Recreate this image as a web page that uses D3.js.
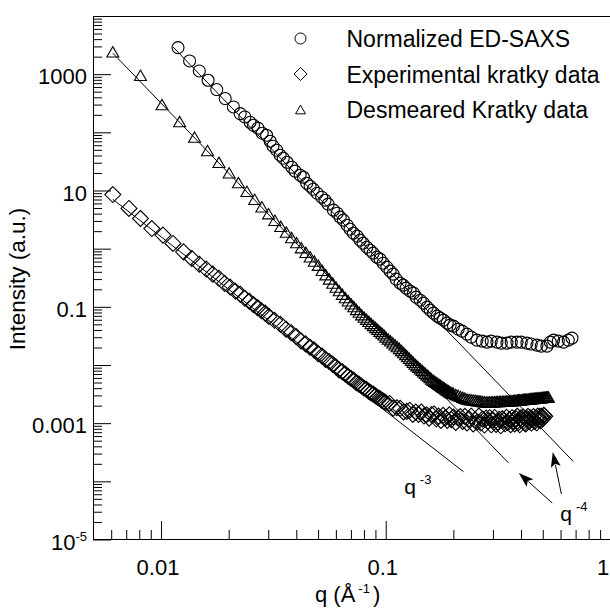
<!DOCTYPE html>
<html><head><meta charset="utf-8">
<script src="https://cdn.jsdelivr.net/npm/d3@7"></script>
<style>
html,body{margin:0;padding:0;background:#fff;}
svg{display:block;}
text{font-family:"Liberation Sans",Arial,Helvetica,sans-serif;fill:#000;}
</style></head><body>
<svg id="chart" width="610" height="608"></svg>
<script>
// ---------------- data ----------------
const edSaxsQ = [0.0119,0.0134,0.0148,0.0162,0.0177,0.0193,0.0210,0.0225,0.0236,0.0249,0.0258,0.0270,0.0282,0.0295,0.0306,0.0315,0.0327,0.0339,0.0350,0.0364,0.0382,0.0395,0.0416,0.0430,0.0445,0.0461,0.0476,0.0495,0.0519,0.0537,0.0554,0.0585,0.0608,0.0627,0.0648,0.0673,0.0694,0.0718,0.0746,0.0769,0.0793,0.0824,0.0852,0.0879,0.0913,0.0944,0.0974,0.1012,0.1046,0.1079,0.1113,0.1159,0.1196,0.1233,0.1285,0.1329,0.1366,0.1424,0.1473,0.1529,0.1577,0.1632,0.1695,0.1748,0.1808,0.1878,0.1936,0.2003,0.2102,0.2190,0.2298,0.2402,0.2546,0.2688,0.2821,0.2948,0.3126,0.3267,0.3464,0.3620,0.3838,0.4011,0.4252,0.4444,0.4711,0.4924,0.5220,0.5400,0.5586,0.5862,0.6189,0.6494,0.6746];
const edSaxsI = [2864,1686,1135,786,544,381,273,210,184,149,132,118,96.5,89.1,70.3,57.7,49.3,40.4,35.9,30.6,25.1,21.5,18.3,16.9,13.35,11.85,10.53,8.98,7.67,6.81,5.82,4.59,4.07,3.48,3.09,2.53,2.16,1.85,1.64,1.40,1.24,1.06,0.942,0.837,0.715,0.660,0.563,0.481,0.411,0.365,0.299,0.255,0.236,0.210,0.186,0.172,0.147,0.130,0.116,0.0988,0.0878,0.0779,0.0692,0.0639,0.0591,0.0525,0.0485,0.0466,0.0414,0.0382,0.0340,0.0302,0.0268,0.0257,0.0247,0.0257,0.0247,0.0238,0.0238,0.0247,0.0247,0.0247,0.0238,0.0229,0.0220,0.0211,0.0211,0.0247,0.0268,0.0257,0.0247,0.0268,0.0290];

const kratkyExpQ = [0.0061,0.0072,0.0081,0.0091,0.0102,0.0113,0.0126,0.0137,0.0148,0.0159,0.0170,0.0181,0.0192,0.0203,0.0214,0.0225,0.0236,0.0247,0.0258,0.0269,0.0280,0.0291,0.0302,
0.032,0.034,0.036,0.038,0.040,0.042,0.044,0.046,0.048,0.050,0.052,0.054,0.056,0.058,0.060,0.062,0.064,0.066,0.068,0.070,0.072,0.074,0.076,0.078,0.080,0.082,0.084,0.086,0.088,0.090,0.092,0.094,0.096,0.098,0.100,
0.104,0.108,0.112,0.116,0.120,0.124,0.128,0.132,0.136,0.140,0.144,0.148,0.152,0.156,0.160,0.164,0.168,0.172,0.176,0.180,0.184,0.188,0.192,0.196,0.200,
0.205,0.210,0.215,0.220,0.225,0.230,0.235,0.240,0.245,0.250,0.255,0.260,0.265,0.270,0.275,0.280,0.285,0.290,0.295,0.300,0.305,0.310,0.315,0.320,0.325,0.330,0.335,0.340,0.345,0.350,0.355,0.360,0.365,0.370,0.375,0.380,0.385,0.390,0.395,0.400,0.405,0.410,0.415,0.420,0.425,0.430,0.435,0.440,0.445,0.450,0.455,0.460,0.465,0.470,0.475,0.480,0.485,0.490,0.495,0.500,0.505,0.510];
const kratkyExpI = [8.53,4.91,3.30,2.22,1.71,1.23,0.881,0.679,0.540,0.446,0.365,0.309,0.253,0.219,0.187,0.165,0.140,0.125,0.109,0.0965,0.0855,0.0779,0.0682,
0.0586,0.0500,0.0412,0.0358,0.0307,0.0259,0.0231,0.0202,0.0182,0.0157,0.0143,0.0125,0.01146,0.01031,0.00931,0.00825,0.00767,0.00700,0.00640,0.00587,0.00551,0.00496,0.00469,0.00434,0.00402,0.00382,0.00355,0.00331,0.00316,0.00296,0.00277,0.00266,0.00249,0.00240,0.00226,
2.185e-3,1.806e-3,1.841e-3,1.798e-3,1.561e-3,1.594e-3,1.666e-3,1.417e-3,1.553e-3,1.417e-3,1.556e-3,1.327e-3,1.392e-3,1.216e-3,1.401e-3,1.442e-3,1.189e-3,1.322e-3,1.115e-3,1.360e-3,1.230e-3,1.113e-3,1.390e-3,1.147e-3,1.277e-3,
1.028e-3,1.225e-3,1.301e-3,1.073e-3,1.308e-3,1.007e-3,1.179e-3,1.317e-3,0.972e-3,1.138e-3,1.034e-3,1.327e-3,1.003e-3,1.174e-3,0.929e-3,1.220e-3,1.084e-3,1.240e-3,0.938e-3,1.123e-3,1.256e-3,0.950e-3,1.038e-3,1.162e-3,0.900e-3,1.191e-3,1.115e-3,0.974e-3,1.258e-3,1.025e-3,1.154e-3,0.940e-3,1.243e-3,1.085e-3,0.970e-3,1.196e-3,1.315e-3,1.023e-3,0.936e-3,1.237e-3,1.131e-3,1.272e-3,1.012e-3,0.969e-3,1.195e-3,1.314e-3,1.070e-3,1.231e-3,1.003e-3,1.154e-3,1.298e-3,1.066e-3,1.208e-3,1.015e-3,1.321e-3,1.136e-3,1.317e-3,1.106e-3,1.312e-3,1.208e-3,1.368e-3,1.319e-3];

const kratkyDesQ = [0.0061,0.0081,0.0101,0.0121,0.0141,0.0161,0.0181,0.0201,0.0221,0.0241,0.0261,0.0281,0.0301,0.0321,0.0341,0.0361,0.0381,0.0401,0.0421,0.0441,0.0461,0.0481,0.0501,0.0521,0.0541,0.0561,0.0581,0.0601,0.0621,0.0641,0.0661,0.0681,0.0701,0.0721,0.0741,0.0761,0.0781,0.0801,0.0821,0.0841,0.0861,0.0881,0.0901,0.0921,0.0941,0.0961,0.0981,0.1001,
0.1025,0.105,0.1075,0.11,0.1125,0.115,0.1175,0.12,0.1225,0.125,0.1275,0.13,0.1325,0.135,0.1375,0.14,0.1425,0.145,0.1475,0.15,0.1525,0.155,0.1575,0.16,0.1625,0.165,0.1675,0.17,0.1725,0.175,0.1775,0.18,0.1825,0.185,0.1875,0.19,0.1925,0.195,0.1975,0.2,
0.205,0.21,0.215,0.22,0.225,0.23,0.235,0.24,0.245,0.25,0.255,0.26,0.265,0.27,0.275,0.28,0.285,0.29,0.295,0.3,0.305,0.31,0.315,0.32,0.325,0.33,0.335,0.34,0.345,0.35,0.355,0.36,0.365,0.37,0.375,0.38,0.385,0.39,0.395,0.4,0.405,0.41,0.415,0.42,0.425,0.43,0.435,0.44,0.445,0.45,0.455,0.46,0.465,0.47,0.475,0.48,0.485,0.49,0.495,0.5,0.505,0.51,0.515,0.52,0.525,0.53];
const kratkyDesI = [2420,957,300,153,82.8,48.7,30.5,20.1,13.7,9.70,7.06,5.25,3.99,3.08,2.42,1.93,1.55,1.27,1.04,0.866,0.725,0.612,0.520,0.424,0.357,0.302,0.256,0.219,0.190,0.165,0.144,0.127,0.113,0.101,0.0903,0.0812,0.0732,0.0669,0.0613,0.0563,0.0519,0.0479,0.0443,0.0410,0.0381,0.0354,0.0330,0.0304,
0.0281,0.0260,0.0241,0.0223,0.0207,0.0193,0.0178,0.0164,0.0152,0.0140,0.0130,0.0121,0.0112,0.0104,0.00974,0.00916,0.00861,0.00811,0.00764,0.00721,0.00681,0.00644,0.00609,0.00577,0.00547,0.00524,0.00503,0.00484,0.00465,0.00448,0.00431,0.00416,0.00401,0.00386,0.00373,0.00360,0.00348,0.00338,0.00332,0.00325,
0.00312,0.00300,0.00289,0.00278,0.00269,0.00259,0.00256,0.00253,0.00250,0.00247,0.00244,0.00242,0.00239,0.00236,0.00234,0.00231,0.00231,0.00232,0.00232,0.00233,0.00234,0.00235,0.00235,0.00236,0.00237,0.00237,0.00238,0.00239,0.00239,0.00240,0.00242,0.00243,0.00244,0.00246,0.00247,0.00248,0.00250,0.00251,0.00252,0.00253,0.00254,0.00256,0.00257,0.00258,0.00259,0.00260,0.00262,0.00263,0.00264,0.00265,0.00266,0.00268,0.00269,0.00270,0.00271,0.00272,0.00273,0.00274,0.00276,0.00277,0.00278,0.00279,0.00280,0.00281,0.00282,0.00283];

const legendLabels = ["Normalized ED-SAXS", "Experimental kratky data", "Desmeared Kratky data"];
const legendShapes = ["circle", "diamond", "triangle"];

const xTickValues = [0.01, 0.1, 1];
const xTickLabels = ["0.01", "0.1", "1"];
const yTickValues = [1000, 10, 0.1, 0.001, 1e-5];
const yTickLabels = ["1000", "10", "0.1", "0.001", "10|-5"];

// power-law guide lines I = A * q^-n  (q^-3 for the smeared data, q^-4 for the others)
const fitPrefactor = [1.6e-6, 3.18e-6, 4.8e-5];
const fitExponent  = [3, 4, 4];
const fitQStart    = [0.0061, 0.0061, 0.0113];
const fitQEnd      = [0.222, 0.352, 0.684];

// annotations (data coordinates)
const arrowTailQ = [0.551, 0.605];
const arrowTailI = [4.24e-5, 6.05e-5];
const arrowTipQ  = [0.391, 0.554];
const arrowTipI  = [1.39e-4, 3.19e-4];
const annotText  = ["q", "q"];
const annotSup   = ["-3", "-4"];
const annotQ     = [0.1208, 0.598];
const annotI     = [6.05e-5, 2.08e-5];

// ---------------- chart ----------------
const svg = d3.select("#chart");
const x = d3.scaleLog().domain([0.005, 1]).range([93.4, 610.4]);
const y = d3.scaleLog().domain([1e-5, 1e4]).range([539.5, 16]);

// frame (top line)
svg.append("line").attr("x1", 93.5).attr("x2", 610).attr("y1", 16.5).attr("y2", 16.5)
  .attr("stroke", "#000").attr("stroke-width", 1);

// tick values
const yMajor = [], yMinor = [];
for (let e = -5; e <= 4; e++) for (let m = 1; m <= 9; m++) {
  const v = m * Math.pow(10, e);
  if (v > 1.0001e4) continue;
  (m === 1 ? yMajor : yMinor).push(v);
}
const xMajor = [], xMinor = [];
for (let e = -3; e <= 0; e++) for (let m = 1; m <= 9; m++) {
  const v = m * Math.pow(10, e);
  if (v < 0.0059 || v > 1.0001) continue;
  (m === 1 ? xMajor : xMinor).push(v);
}

function styleAxis(g) {
  g.selectAll("path").attr("stroke", "#000");
  g.selectAll("line").attr("stroke", "#000");
}
const gy1 = svg.append("g").attr("transform", "translate(93,0)")
  .call(d3.axisRight(y).tickValues(yMajor).tickSize(18).tickSizeOuter(0).tickFormat(""));
styleAxis(gy1);
const gy2 = svg.append("g").attr("transform", "translate(93,0)")
  .call(d3.axisRight(y).tickValues(yMinor).tickSize(9).tickSizeOuter(0).tickFormat(""));
gy2.select(".domain").remove(); styleAxis(gy2);

const gx1 = svg.append("g").attr("transform", "translate(0,539)")
  .call(d3.axisTop(x).tickValues(xMajor).tickSize(18).tickSizeOuter(0).tickFormat(""));
styleAxis(gx1);
const gx2 = svg.append("g").attr("transform", "translate(0,539)")
  .call(d3.axisTop(x).tickValues(xMinor).tickSize(9).tickSizeOuter(0).tickFormat(""));
gx2.select(".domain").remove(); styleAxis(gx2);

// tick labels
svg.append("g").selectAll("text").data(xTickValues).join("text")
  .attr("x", d => Math.min(x(d) - 3, 603)).attr("y", 575).attr("text-anchor", "middle")
  .attr("font-size", 22).text((d, i) => xTickLabels[i]);

const yl = svg.append("g").selectAll("text").data(yTickValues).join("text")
  .attr("x", 87).attr("y", d => y(d) + 10).attr("text-anchor", "end").attr("font-size", 22);
yl.each(function(d, i) {
  const parts = yTickLabels[i].split("|");
  const t = d3.select(this);
  t.append("tspan").text(parts[0]);
  if (parts[1]) t.append("tspan").attr("dy", -9).attr("font-size", 13).text(parts[1]);
});

// axis titles
const xt = svg.append("text").attr("x", 315).attr("y", 602).attr("font-size", 22);
xt.append("tspan").text("q (Å");
xt.append("tspan").attr("dx", 3).attr("dy", -9).attr("font-size", 13).text("-1");
xt.append("tspan").attr("dx", 3).attr("dy", 9).text(")");

svg.append("text").attr("transform", "translate(25,279) rotate(-90)")
  .attr("text-anchor", "middle").attr("font-size", 22.5).text("Intensity (a.u.)");

// guide lines
fitPrefactor.forEach((A, i) => {
  const n = fitExponent[i];
  const q0 = fitQStart[i], q1 = fitQEnd[i];
  svg.append("line")
    .attr("x1", x(q0)).attr("y1", y(A * Math.pow(q0, -n)))
    .attr("x2", x(q1)).attr("y2", y(A * Math.pow(q1, -n)))
    .attr("stroke", "#000").attr("stroke-width", 1);
});

// markers
const diamondPath = (s) => `M0,${-s}L${s},0L0,${s}L${-s},0Z`;
const trianglePath = (s) => { const h = s * Math.sqrt(3) / 2; return `M0,${-h/2}L${s/2},${h/2}L${-s/2},${h/2}Z`; };

const mk = svg.append("g").attr("fill", "none").attr("stroke", "#000").attr("stroke-width", 1.1);
mk.append("g").selectAll("path").data(kratkyExpQ).join("path")
  .attr("d", diamondPath(8))
  .attr("transform", (d, i) => `translate(${x(d)},${y(kratkyExpI[i])})`);
mk.append("g").selectAll("path").data(kratkyDesQ).join("path")
  .attr("d", trianglePath(12))
  .attr("transform", (d, i) => `translate(${x(d)},${y(kratkyDesI[i])})`);
mk.append("g").selectAll("circle").data(edSaxsQ).join("circle")
  .attr("cx", d => x(d)).attr("cy", (d, i) => y(edSaxsI[i])).attr("r", 6);

// legend
const lg = svg.append("g");
legendLabels.forEach((lab, i) => {
  const cy = 38.5 + i * 35.5;
  const s = legendShapes[i];
  if (s === "circle") lg.append("circle").attr("cx", 300.5).attr("cy", cy).attr("r", 5.5);
  else if (s === "diamond") lg.append("path").attr("d", diamondPath(6.5)).attr("transform", `translate(300.5,${cy})`);
  else lg.append("path").attr("d", trianglePath(10)).attr("transform", `translate(300.5,${cy})`);
  lg.append("text").attr("x", 346.5).attr("y", cy + 8.5).attr("font-size", 23).text(lab);
});
lg.selectAll("circle,path").attr("fill", "none").attr("stroke", "#000").attr("stroke-width", 1);

// arrows
arrowTailQ.forEach((q, i) => {
  const x0 = x(q), y0 = y(arrowTailI[i]);
  const x1 = x(arrowTipQ[i]), y1 = y(arrowTipI[i]);
  const dx = x1 - x0, dy = y1 - y0, L = Math.hypot(dx, dy);
  const ux = dx / L, uy = dy / L, hl = 15, hw = 5;
  const bx = x1 - ux * hl, by = y1 - uy * hl;
  svg.append("line").attr("x1", x0).attr("y1", y0).attr("x2", bx + ux * 2).attr("y2", by + uy * 2)
    .attr("stroke", "#000").attr("stroke-width", 1);
  svg.append("path")
    .attr("d", `M${x1},${y1}L${bx - uy * hw},${by + ux * hw}L${bx + ux * 3},${by + uy * 3}L${bx + uy * hw},${by - ux * hw}Z`)
    .attr("fill", "#000");
});

// power-law labels
annotText.forEach((t, i) => {
  const tx = svg.append("text").attr("x", x(annotQ[i])).attr("y", y(annotI[i])).attr("font-size", 21);
  tx.append("tspan").text(t);
  tx.append("tspan").attr("dx", 4).attr("dy", -10).attr("font-size", 13).text(annotSup[i]);
});
</script>
</body></html>
